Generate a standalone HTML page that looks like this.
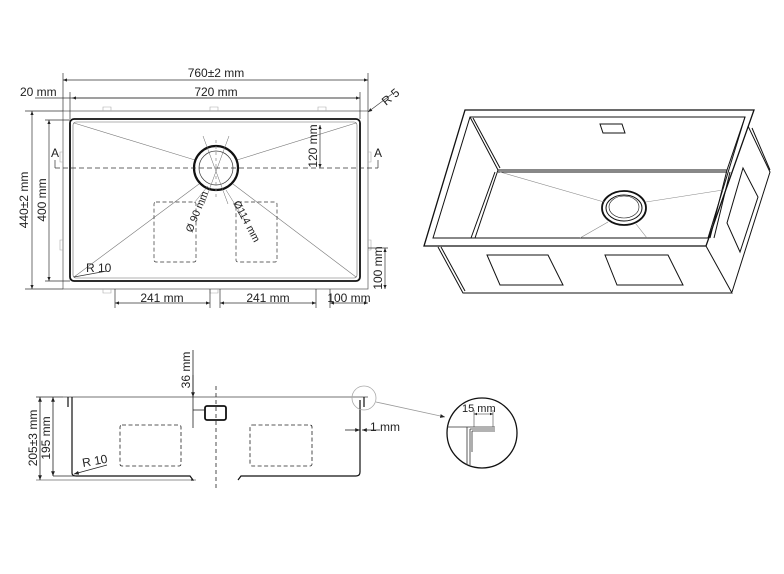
<!DOCTYPE html>
<html><head><meta charset="utf-8"><style>
html,body{margin:0;padding:0;background:#fff;}
svg{display:block;}
text{font-family:"Liberation Sans",sans-serif;fill:#222;}
</style></head><body>
<svg width="784" height="574" viewBox="0 0 784 574" xmlns="http://www.w3.org/2000/svg">
<defs>
<marker id="ar" viewBox="0 0 10 10" refX="10" refY="5" markerWidth="6" markerHeight="6" orient="auto-start-reverse"><path d="M0,1 L10,5 L0,9 z" fill="#222"/></marker>
</defs>
<g fill="none" stroke="#333" stroke-width="0.7">
<rect x="63" y="111" width="305" height="178" stroke="#555"/>
<rect x="70" y="119" width="290" height="162" rx="4" stroke="#111" stroke-width="1.8"/>
<rect x="73" y="122" width="284" height="156" rx="3" stroke="#666" stroke-width="0.6"/>
<g stroke="#aaa" stroke-width="0.6">
<path d="M103,111 v-4 h8 v4 M210,111 v-4 h8 v4 M318,111 v-4 h8 v4 M103,289 v4 h8 v-4 M210,289 v4 h8 v-4 M63,152 h-3 v10 h3 M63,240 h-3 v10 h3 M368,152 h3 v10 h-3 M368,240 h3 v10 h-3"/>
</g>
<g stroke="#777" stroke-width="0.6">
<line x1="74" y1="123" x2="195" y2="160"/><line x1="356" y1="123" x2="237" y2="160"/>
<line x1="74" y1="277" x2="199" y2="184"/><line x1="356" y1="277" x2="233" y2="184"/>
</g>
<circle cx="216" cy="168" r="22" stroke="#111" stroke-width="2.2"/>
<circle cx="216" cy="168" r="17" stroke="#333"/>
<line x1="203" y1="136" x2="228" y2="204" stroke="#666" stroke-width="0.5"/>
<line x1="229" y1="136" x2="204" y2="204" stroke="#666" stroke-width="0.5"/>
<line x1="194" y1="203" x2="208" y2="186" stroke="#666" stroke-width="0.5"/>
<line x1="246" y1="222" x2="226" y2="190" stroke="#666" stroke-width="0.5"/>
<line x1="55" y1="168" x2="378" y2="168" stroke="#333" stroke-dasharray="5,3"/>
<line x1="55" y1="168" x2="55" y2="160"/><line x1="378" y1="168" x2="378" y2="160"/>
<line x1="216" y1="140" x2="216" y2="200" stroke="#888" stroke-dasharray="3,3"/>
<rect x="154" y="202" width="42" height="60" rx="2" stroke-dasharray="4,2.5"/>
<rect x="236" y="202" width="41" height="60" rx="2" stroke-dasharray="4,2.5"/>
<line x1="63" y1="73" x2="63" y2="111"/><line x1="368" y1="73" x2="368" y2="111"/>
<line x1="63" y1="80" x2="368" y2="80" marker-start="url(#ar)" marker-end="url(#ar)"/>
<line x1="70" y1="92" x2="70" y2="119"/><line x1="360" y1="92" x2="360" y2="119"/>
<line x1="35" y1="98" x2="360" y2="98" marker-end="url(#ar)"/>
<line x1="72" y1="98" x2="360" y2="98" marker-start="url(#ar)"/>
<line x1="368" y1="112" x2="392" y2="94" marker-start="url(#ar)"/>
<line x1="25" y1="111" x2="63" y2="111"/><line x1="25" y1="289" x2="63" y2="289"/>
<line x1="32" y1="111" x2="32" y2="289" marker-start="url(#ar)" marker-end="url(#ar)"/>
<line x1="45" y1="120" x2="70" y2="120"/><line x1="45" y1="281" x2="70" y2="281"/>
<line x1="49" y1="120" x2="49" y2="281" marker-start="url(#ar)" marker-end="url(#ar)"/>
<line x1="320" y1="125" x2="320" y2="168" marker-start="url(#ar)" marker-end="url(#ar)"/>
<line x1="368" y1="248" x2="388" y2="248"/>
<line x1="385" y1="248" x2="385" y2="289" marker-start="url(#ar)" marker-end="url(#ar)"/>
<line x1="115" y1="289" x2="115" y2="308"/><line x1="210" y1="289" x2="210" y2="308"/>
<line x1="220" y1="289" x2="220" y2="308"/><line x1="316" y1="289" x2="316" y2="308"/>
<line x1="330" y1="289" x2="330" y2="308"/>
<line x1="115" y1="303" x2="210" y2="303" marker-start="url(#ar)" marker-end="url(#ar)"/>
<line x1="220" y1="303" x2="316" y2="303" marker-start="url(#ar)" marker-end="url(#ar)"/>
<line x1="330" y1="303" x2="368" y2="303" marker-start="url(#ar)" marker-end="url(#ar)"/>
<line x1="74" y1="277" x2="107" y2="271"/>
</g>
<g font-size="12">
<text x="216" y="77" text-anchor="middle">760±2 mm</text>
<text x="216" y="96" text-anchor="middle">720 mm</text>
<text x="20" y="96">20 mm</text>
<text x="55" y="157" text-anchor="middle">A</text>
<text x="378" y="157" text-anchor="middle">A</text>
<text transform="translate(386,106) rotate(-40)">R 5</text>
<text transform="translate(28,200) rotate(-90)" text-anchor="middle">440±2 mm</text>
<text transform="translate(46,200) rotate(-90)" text-anchor="middle">400 mm</text>
<text transform="translate(317,146) rotate(-90)" text-anchor="middle">120 mm</text>
<text transform="translate(382,268) rotate(-90)" text-anchor="middle">100 mm</text>
<text x="162" y="302" text-anchor="middle">241 mm</text>
<text x="268" y="302" text-anchor="middle">241 mm</text>
<text x="349" y="302" text-anchor="middle">100 mm</text>
<text x="86" y="272">R 10</text>
<text transform="translate(192,233) rotate(-68)" font-size="10.5">Ø 90 mm</text>
<text transform="translate(233,203) rotate(62)" font-size="10.5">Ø114 mm</text>
</g>

<g fill="none" stroke="#111" stroke-width="1">
<path d="M465,110 L754,110 L706,246 L424,246 Z" stroke-width="1.3"/>
<path d="M470,117 L745,117 L708,238 L433,238 Z"/>
<path d="M470,117 L498,170 L727,170 L745,117"/>
<path d="M473,118 L500,168"/>
<path d="M498,170 L475,238 M495,172 L471,238"/>
<path d="M727,170 L710,238 M730,172 L714,238"/>
<path d="M498,172 L727,172"/>
<path d="M438,247 L463,293 L732,293 L706,246"/>
<path d="M441,247 L465,291"/>
<path d="M748,126 L770,172 L732,292"/>
<path d="M752,128 L770,170"/>
<path d="M487,255 L548,255 L563,285 L500,285 Z"/>
<path d="M605,255 L668,255 L683,285 L617,285 Z"/>
<path d="M743,168 L758,197 L740,252 L727,223 Z"/>
<path d="M600,124 L622,124 L625,133 L603,133 Z"/>
<ellipse cx="624" cy="208" rx="22" ry="17" stroke-width="1.8"/>
<ellipse cx="624" cy="208" rx="18" ry="13"/>
<ellipse cx="624" cy="207" rx="15" ry="11" stroke-width="0.6"/>
</g>
<g stroke="#888" stroke-width="0.6">
<line x1="500" y1="172" x2="604" y2="202"/><line x1="723" y1="190" x2="646" y2="202"/>
<line x1="580" y1="238" x2="608" y2="222"/><line x1="647" y1="238" x2="636" y2="224"/>
</g>

<g fill="none" stroke="#222" stroke-width="0.8">
<line x1="63" y1="397" x2="368" y2="397" stroke="#444"/>
<path d="M68,397 v10 M72,397 v76 q0,3 4,3 L190,476 l3,4 h-2" stroke="#111" stroke-width="1.2"/>
<path d="M238,480 l3,-4 L356,476 q4,0 4,-4 L360,400 M364,397 v10" stroke="#111" stroke-width="1.2"/>
<line x1="216" y1="386" x2="216" y2="490" stroke-dasharray="4,3"/>
<rect x="205" y="406" width="21" height="14" rx="2" stroke="#111" stroke-width="1.8"/>
<line x1="193" y1="350" x2="193" y2="428"/>
<line x1="193" y1="375" x2="193" y2="397" marker-end="url(#ar)"/>
<line x1="193" y1="410" x2="205" y2="410"/>
<rect x="120" y="425" width="61" height="41" rx="2" stroke-dasharray="4,2.5"/>
<rect x="250" y="425" width="62" height="41" rx="2" stroke-dasharray="4,2.5"/>
<line x1="36" y1="397" x2="63" y2="397"/><line x1="36" y1="480" x2="196" y2="480" stroke-width="0.6"/>
<line x1="40" y1="397" x2="40" y2="480" marker-start="url(#ar)" marker-end="url(#ar)"/>
<line x1="53" y1="397" x2="53" y2="476" marker-start="url(#ar)" marker-end="url(#ar)"/>
<line x1="53" y1="476" x2="76" y2="476"/>
<line x1="107" y1="465" x2="74" y2="474" marker-end="url(#ar)"/>
<line x1="345" y1="430" x2="360" y2="430" marker-end="url(#ar)"/>
<line x1="380" y1="430" x2="362" y2="430" marker-end="url(#ar)"/>
<circle cx="364" cy="398" r="12" stroke="#aaa"/>
<line x1="376" y1="402" x2="445" y2="417" stroke="#999" marker-end="url(#ar)"/>
<circle cx="482" cy="433" r="35" stroke="#111" stroke-width="1.3"/>
<line x1="447" y1="427" x2="495" y2="427" stroke="#333"/>
<path d="M467,427 V465 M470,429 V465 M470,429 H495 M472,431 H495 M472,431 V452" stroke="#333"/>
<line x1="474" y1="410" x2="474" y2="427" stroke-width="0.5"/>
<line x1="493" y1="410" x2="493" y2="427" stroke-width="0.5"/>
<line x1="474" y1="414" x2="493" y2="414" marker-start="url(#ar)" marker-end="url(#ar)" stroke-width="0.5"/>
</g>
<g font-size="12">
<text transform="translate(190,370) rotate(-90)" text-anchor="middle">36 mm</text>
<text transform="translate(37,438) rotate(-90)" text-anchor="middle">205±3 mm</text>
<text transform="translate(50,438) rotate(-90)" text-anchor="middle">195 mm</text>
<text x="83" y="467" transform="rotate(-10,83,467)">R 10</text>
<text x="370" y="431">1 mm</text>
<text x="462" y="412" font-size="11">15 mm</text>
</g>
</svg>
</body></html>
